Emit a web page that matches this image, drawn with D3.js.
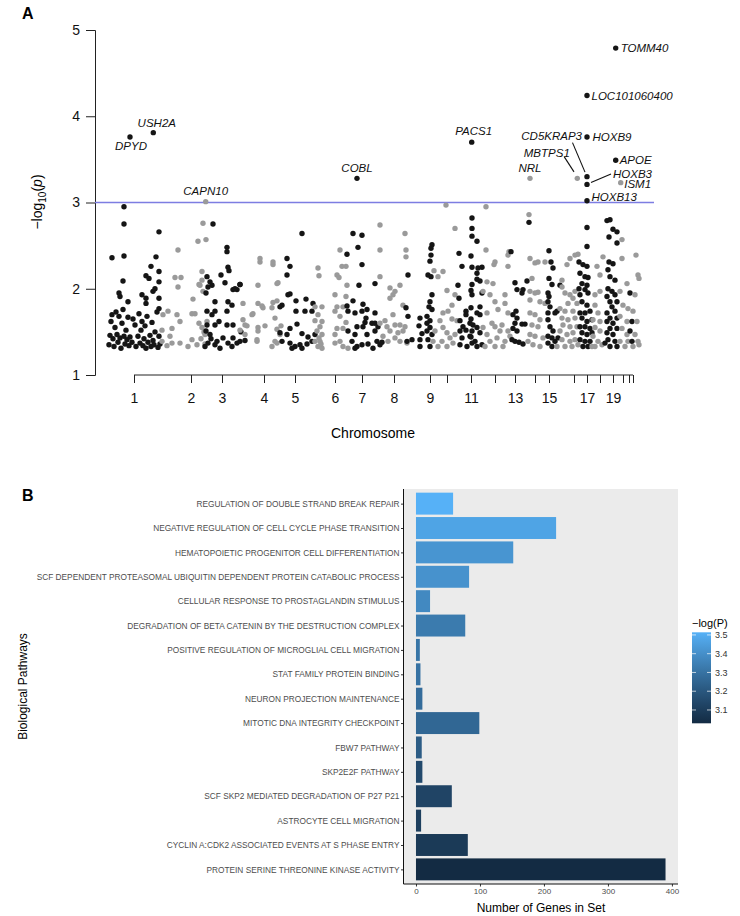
<!DOCTYPE html>
<html><head><meta charset="utf-8">
<script src="https://cdn.jsdelivr.net/npm/d3@7"></script>
<style>body{margin:0;background:#fff}svg{display:block}text{font-family:"Liberation Sans",Arial,Helvetica,sans-serif}</style>
</head><body><svg id="c" width="740" height="916"></svg>
<script>
// ---------- Panel A data: cumulative position (arbitrary genomic units), -log10(p) ----------
const chr1 = [[29,2.95],[29,2.75],[64,2.66],[17,2.36],[29,2.38],[61,2.37],[56,2.26],[64,2.20],[51,2.15],[54,2.12],[64,2.08],[28,2.09],[60,2.0],[58,1.97],[24,1.95],[25,1.91],[47,1.93],[51,1.89],[33,1.85],[64,1.89],[51,1.83],[64,1.77],
 [14,1.35],[15,1.46],[16,1.62],[17,1.70],[18,1.42],[19,1.33],[20,1.55],[21,1.73],[22,1.47],[23,1.38],[24,1.68],[25,1.43],[26,1.31],[27,1.60],[28,1.76],[29,1.45],[30,1.36],[31,1.52],[32,1.41],[33,1.67],[34,1.34],[35,1.44],[37,1.38],[38,1.65],[40,1.58],[41,1.33],[43,1.45],[44,1.71],[45,1.37],[46,1.52],[47,1.62],[48,1.34],[49,1.42],[50,1.57],[51,1.31],[52,1.68],[53,1.38],[55,1.46],[56,1.33],[57,1.61],[58,1.40],[59,1.35],[60,1.50],[62,1.73],[63,1.32],[64,1.45],[65,1.36]];
const chr2 = [[83,2.45],[80,2.13],[86,2.13],[83,2.02],[73,1.74],[68,1.70],[82,1.70],[67,1.52],[77,1.54],[85,1.62],[67,1.39],[72,1.34],[77,1.37],[85,1.37],[97,1.71],[100,1.71],[98,1.88],[103,2.55],[111,2.57],[108,2.76],[107,2.20],[105,2.04],[108,1.97],[97,1.41],[102,1.35],[93,1.33],[112,1.62],[110,1.47],[107,1.55],[104,2.05],[107,2.10],[109,1.50],[106,1.42],[110,1.36],[104,1.60],[75,1.45]];
const chr3 = [[118,2.75],[132,2.48],[132,2.43],[133,2.25],[134,2.21],[126,2.16],[130,2.07],[142,1.99],[138,1.99],[112,2.14],[115,2.08],[113,2.02],[117,2.04],[111,1.95],[120,1.85],[112,1.74],[120,1.74],[133,1.85],[132,1.74],[137,1.81],[117,1.70],[112,1.58],[120,1.58],[132,1.58],[138,1.58],[111,1.51],[115,1.47],[122,1.39],[113,1.37],[120,1.35],[128,1.43],[133,1.37],[138,1.43],[142,1.37],[137,1.33],[145,1.39],[140,2.0],[145,2.05],[146,1.50],[150,1.40],[110,1.33],[125,1.31],[116,1.42],[124,1.62],[145,2.05]];
const chr4 = [[148,1.83],[148,1.64],[152,1.57],[158,1.71],[162,1.41],[163,2.04],[165,2.31],[165,2.35],[163,1.83],[168,1.78],[163,1.55],[163,1.51],[170,1.57],[178,2.28],[182,2.06],[177,1.78],[178,1.84],[182,1.86],[180,1.66],[182,1.53],[177,1.33],[182,1.37],[185,1.47],[186,1.57],[178,2.31],[183,2.07],[157,1.70],[150,1.58],[145,1.52],[150,1.47],[162,1.39],[180,1.39],[167,1.80]];
const chr5 = [[207,2.64],[192,2.35],[195,2.26],[192,2.16],[193,1.93],[195,1.94],[187,1.81],[185,1.79],[201,1.86],[211,1.88],[218,1.83],[217,1.74],[210,1.74],[201,1.74],[202,1.59],[195,1.54],[185,1.49],[192,1.47],[207,1.48],[213,1.44],[195,1.37],[200,1.33],[205,1.35],[207,1.31],[212,1.36],[217,1.39],[220,1.47],[187,1.39],[197,1.31]];
const chr6 = [[223,2.24],[224,2.15],[220,1.79],[227,1.79],[223,1.70],[220,1.63],[227,1.62],[225,1.56],[222,1.51],[227,1.47],[225,1.39],[223,1.33],[227,1.31],[220,1.39],[245,2.45],[247,2.26],[251,2.26],[242,2.16],[244,2.13],[252,2.04],[240,1.93],[251,1.91],[248,1.79],[242,1.79],[240,1.74],[245,1.68],[251,1.61],[242,1.54],[248,1.54],[240,1.47],[245,1.39],[240,1.37],[248,1.33],[253,1.31],[224,1.43],[226,1.36]];
const chr7 = [[258,2.64],[267,2.62],[263,2.48],[252,2.40],[267,2.28],[264,2.04],[280,2.06],[252,1.80],[258,1.86],[253,1.74],[260,1.72],[267,1.74],[272,1.76],[268,1.82],[271,1.66],[280,1.72],[277,1.60],[270,1.61],[262,1.56],[268,1.56],[280,1.60],[283,1.56],[253,1.51],[260,1.47],[272,1.47],[280,1.51],[257,1.39],[262,1.33],[267,1.35],[273,1.36],[282,1.39],[260,1.31],[285,1.35],[278,1.31],[287,1.38]];
const chr8 = [[285,2.74],[285,2.45],[285,2.14],[310,2.64],[311,2.45],[311,2.37],[295,2.01],[300,1.97],[305,2.04],[298,1.93],[295,1.89],[308,1.81],[290,1.63],[298,1.70],[300,1.58],[292,1.56],[285,1.60],[305,1.58],[295,1.51],[303,1.49],[308,1.51],[288,1.45],[300,1.43],[305,1.39],[312,1.37],[293,1.39],[310,1.56]];
const chr9 = [[313,2.16],[337,2.51],[336,2.47],[336,2.39],[335,2.32],[333,2.16],[336,2.14],[311,1.78],[313,1.68],[337,1.93],[335,1.85],[334,1.79],[337,1.76],[332,1.68],[335,1.63],[325,1.66],[332,1.60],[324,1.57],[335,1.55],[332,1.51],[327,1.48],[337,1.47],[333,1.41],[325,1.41],[317,1.41],[335,1.33],[325,1.33],[312,1.39]];
const chr10 = [[351,2.97],[360,2.70],[339,2.21],[348,2.20],[343,2.14],[352,1.98],[360,1.93],[357,1.81],[348,1.72],[353,1.74],[345,1.63],[357,1.65],[362,1.63],[348,1.55],[352,1.49],[340,1.51],[355,1.43],[347,1.39],[360,1.47],[343,1.33],[352,1.33],[358,1.37],[338,1.39]];
const chr11 = [[377,2.82],[377,2.70],[377,2.61],[382,2.55],[364,2.41],[376,2.38],[367,2.26],[377,2.25],[383,2.24],[387,2.25],[382,2.18],[382,2.11],[385,2.09],[363,2.04],[377,2.05],[376,1.98],[377,1.93],[387,1.95],[364,1.89],[371,1.74],[376,1.78],[385,1.79],[382,1.72],[371,1.70],[365,1.63],[376,1.65],[385,1.70],[368,1.56],[375,1.60],[382,1.55],[365,1.51],[377,1.51],[385,1.49],[367,1.43],[375,1.45],[380,1.39],[365,1.35],[372,1.33],[377,1.37],[382,1.33],[387,1.35],[376,1.44],[371,1.52],[378,1.58]];
const chr12 = [[391,2.95],[391,2.45],[400,2.31],[399,2.28],[392,2.08],[398,2.06],[388,1.97],[395,1.93],[410,1.93],[400,1.85],[410,1.83],[392,1.72],[403,1.76],[397,1.60],[407,1.58],[413,1.72],[400,1.56],[388,1.55],[392,1.47],[405,1.51],[413,1.51],[395,1.39],[402,1.43],[410,1.39],[390,1.33],[400,1.33],[408,1.33],[415,1.45],[413,2.39],[414,2.43],[413,2.26]];
const chr13 = [[416,2.43],[420,2.07],[422,1.99],[421,1.74],[418,1.70],[422,1.66],[420,1.60],[418,1.54],[422,1.51],[417,1.41],[420,1.39],[428,1.99],[427,1.59],[434,2.77],[432,2.09],[427,1.95],[430,1.59],[428,1.36],[424,1.38]];
const chr14 = [[434,2.86],[435,2.35],[440,2.30],[443,2.31],[450,2.31],[437,2.12],[435,1.97],[440,1.95],[443,1.96],[435,1.87],[445,1.85],[450,1.83],[435,1.72],[440,1.70],[445,1.64],[437,1.58],[443,1.56],[435,1.47],[440,1.45],[448,1.43],[438,1.35],[445,1.33],[433,1.39]];
const chr15 = [[454,2.44],[456,2.31],[458,2.24],[454,2.12],[457,2.05],[453,1.95],[454,1.91],[453,1.85],[455,1.79],[453,1.72],[460,1.72],[453,1.64],[455,1.56],[458,1.51],[453,1.45],[457,1.43],[453,1.37],[460,1.39],[457,1.33],[463,1.43],[462,1.74],[465,2.04]];
const chr16 = [[475,2.35],[480,2.39],[483,2.40],[472,2.28],[467,2.10],[467,2.02],[470,1.95],[475,1.93],[480,1.97],[478,1.89],[473,1.83],[482,1.83],[465,1.77],[470,1.74],[478,1.74],[467,1.66],[473,1.64],[480,1.66],[468,1.58],[475,1.56],[482,1.56],[465,1.51],[472,1.47],[478,1.49],[467,1.41],[475,1.39],[480,1.41],[470,1.33],[477,1.33],[483,1.35],[462,1.33]];
const chr17 = [[492,2.71],[492,2.49],[484,2.31],[488,2.28],[492,2.26],[485,2.18],[490,2.14],[493,2.13],[487,2.06],[492,2.04],[484,2.00],[490,1.99],[493,1.95],[485,1.93],[487,1.85],[492,1.81],[485,1.72],[490,1.72],[495,1.74],[487,1.66],[492,1.62],[497,1.64],[485,1.56],[490,1.56],[495,1.54],[487,1.49],[492,1.47],[497,1.49],[485,1.41],[490,1.39],[495,1.39],[488,1.33],[493,1.33]];
const chr18 = [[508,2.37],[502,2.26],[505,2.16],[500,1.93],[505,1.97],[500,1.81],[503,1.72],[498,1.64],[505,1.62],[500,1.55],[505,1.51],[498,1.45],[503,1.39],[500,1.33],[507,1.35],[497,1.33]];
const chr19 = [[512,2.79],[515,2.80],[518,2.69],[522,2.66],[514,2.60],[522,2.53],[514,2.31],[518,2.29],[513,2.22],[515,2.14],[520,2.10],[513,2.00],[517,1.97],[520,1.93],[512,1.91],[515,1.85],[522,1.85],[517,1.79],[512,1.72],[520,1.74],[515,1.66],[522,1.66],[512,1.62],[518,1.60],[515,1.54],[522,1.54],[512,1.49],[518,1.47],[513,1.41],[520,1.39],[515,1.33],[522,1.33],[510,1.37]];
const chr20 = [[527,2.57],[527,2.35],[532,2.06],[525,1.97],[528,1.81],[533,1.77],[525,1.68],[532,1.62],[527,1.54],[532,1.47],[525,1.39],[530,1.33],[533,1.39]];
const chr21 = [[535,1.95],[537,1.62],[535,1.51],[537,1.39]];
const chr22 = [[541,2.39],[543,2.16],[544,2.12],[540,1.93],[538,1.74],[542,1.62],[540,1.47],[543,1.39],[538,1.33],[544,1.35]];
const chrPoints = [chr1,chr2,chr3,chr4,chr5,chr6,chr7,chr8,chr9,chr10,chr11,chr12,chr13,chr14,chr15,chr16,chr17,chr18,chr19,chr20,chr21,chr22];
const chrTickPos = [39,96,127,169,200,240,267,299,335,352,376,400,420,440,454,479,492,505,518,528,534,538];
const chrTickLabels = ["1","2","3","4","5","6","7","8","9","","11","","13","","15","","17","","19","","",""];
const yTicksA = [1,2,3,4,5];
const threshold = 3;

// top genes
const geneNames = ["TOMM40","LOC101060400","HOXB9","APOE","CD5KRAP3","MBTPS1","HOXB3","ISM1","HOXB13","NRL","PACS1","COBL","CAPN10","USH2A","DPYD"];
const geneChr   = [19,17,17,19,17,16,17,20,17,14,11,7,2,1,1];
const genePos   = [520.7,492,492,520.7,492,482.3,492,525.7,492,435,376.7,262,110.7,58.3,35];
const geneVal   = [4.79,4.24,3.76,3.49,3.30,3.28,3.21,3.23,3.02,3.28,3.70,3.28,3.01,3.81,3.76];

// ---------- Panel B data ----------
const pathways = ["REGULATION OF DOUBLE STRAND BREAK REPAIR","NEGATIVE REGULATION OF CELL CYCLE PHASE TRANSITION","HEMATOPOIETIC PROGENITOR CELL DIFFERENTIATION","SCF DEPENDENT PROTEASOMAL UBIQUITIN DEPENDENT PROTEIN CATABOLIC PROCESS","CELLULAR RESPONSE TO PROSTAGLANDIN STIMULUS","DEGRADATION OF BETA CATENIN BY THE DESTRUCTION COMPLEX","POSITIVE REGULATION OF MICROGLIAL CELL MIGRATION","STAT FAMILY PROTEIN BINDING","NEURON PROJECTION MAINTENANCE","MITOTIC DNA INTEGRITY CHECKPOINT","FBW7 PATHWAY","SKP2E2F PATHWAY","SCF SKP2 MEDIATED DEGRADATION OF P27 P21","ASTROCYTE CELL MIGRATION","CYCLIN A:CDK2 ASSOCIATED EVENTS AT S PHASE ENTRY","PROTEIN SERINE THREONINE KINASE ACTIVITY"];
const geneCounts = [58,219,152,83,22,77,6,7,10,99,9,10,56,8,81,390];
const negLogP = [3.514,3.47,3.42,3.41,3.38,3.33,3.31,3.30,3.28,3.26,3.22,3.15,3.13,3.11,3.09,3.029];
const countTicks = [0,100,200,300,400];
const legendTicks = [3.1,3.2,3.3,3.4,3.5];

// ================= Drawing =================
const svg = d3.select("#c");
const FONT = '"Liberation Sans",Arial,Helvetica,sans-serif';

// ----- Panel A -----
const xA = d3.scaleLinear().domain([0,560]).range([95,655]);
const yA = d3.scaleLinear().domain([1,5]).range([375,30]);
const gA = svg.append("g");

gA.append("text").attr("x",22).attr("y",19).attr("font-size",16).attr("font-weight","bold").text("A");

// y axis
const yAxisA = d3.axisLeft(yA).tickValues(yTicksA).tickFormat(d3.format("d")).tickSize(9).tickPadding(6);
const gy = gA.append("g").attr("transform","translate(95,0)").call(yAxisA);
gy.select(".domain").attr("stroke","#222");
gy.selectAll(".tick line").attr("stroke","#222");
gy.selectAll(".tick text").attr("font-size",14).attr("fill","#111").attr("font-family",FONT);

// x axis
const xAxisA = d3.axisBottom(xA).tickValues(chrTickPos).tickFormat((d,i)=>chrTickLabels[i]).tickSize(8).tickPadding(10);
const gx = gA.append("g").attr("transform","translate(0,375)").call(xAxisA);
gx.select(".domain").remove();
gx.append("line").attr("x1",xA(chrTickPos[0])).attr("x2",xA(chrTickPos[chrTickPos.length-1])).attr("stroke","#222");
gx.selectAll(".tick line").attr("stroke","#222");
gx.selectAll(".tick text").attr("font-size",14).attr("fill","#111").attr("font-family",FONT);

gA.append("text").attr("x",373).attr("y",438).attr("text-anchor","middle").attr("font-size",14).text("Chromosome");

// y label
const yl = gA.append("text").attr("transform","translate(42,202) rotate(-90)").attr("text-anchor","middle").attr("font-size",14);
yl.append("tspan").text("\u2212log");
yl.append("tspan").attr("font-size",10).attr("dy",4).text("10");
yl.append("tspan").attr("dy",-4).text("(");
yl.append("tspan").attr("font-style","italic").text("p");
yl.append("tspan").text(")");

// threshold line
gA.append("line").attr("x1",95).attr("x2",654).attr("y1",yA(threshold)).attr("y2",yA(threshold)).attr("stroke","#7d7de2").attr("stroke-width",1.4);

// points
const colA = c => (c % 2 === 1) ? "#151515" : "#9a9a9a";
chrPoints.forEach((arr,i)=>{
  gA.append("g").selectAll("circle").data(arr).join("circle")
    .attr("cx",d=>xA(d[0])).attr("cy",d=>yA(d[1])).attr("r",2.7).attr("fill",colA(i+1));
});
gA.append("g").selectAll("circle").data(geneNames.map((n,i)=>i)).join("circle")
  .attr("cx",i=>xA(genePos[i])).attr("cy",i=>yA(geneVal[i])).attr("r",2.7).attr("fill",i=>colA(geneChr[i]));

// gene labels: placement [dx, dy, anchor, leader line]
const place = {
  "TOMM40":[5,0,"start"],"LOC101060400":[4.5,0,"start"],"HOXB9":[5.5,0,"start"],"APOE":[4,0,"start"],
  "CD5KRAP3":[-5,-40.5,"end",[-14.5,-34,-2,-4.5]],"MBTPS1":[-7.5,-25,"end",[-13,-21.5,-3.3,-6.5]],
  "HOXB3":[26,-10.5,"start",[4,-2,24,-10.5]],"ISM1":[3.5,1.5,"start"],"HOXB13":[4.5,-3.5,"start"],
  "NRL":[0,-10.5,"middle"],"PACS1":[2,-11,"middle"],"COBL":[0,-10,"middle"],"CAPN10":[0,-11,"middle"],
  "USH2A":[3.5,-10,"middle"],"DPYD":[1,9,"middle"]
};
geneNames.forEach((n,i)=>{
  const px = xA(genePos[i]), py = yA(geneVal[i]), p = place[n];
  gA.append("text").attr("x",px+p[0]).attr("y",py+p[1]).attr("dy","0.35em").attr("text-anchor",p[2])
    .attr("font-size",11.5).attr("font-style","italic").attr("fill","#111").text(n);
  if (p[3]) gA.append("line").attr("x1",px+p[3][0]).attr("y1",py+p[3][1]).attr("x2",px+p[3][2]).attr("y2",py+p[3][3])
    .attr("stroke","#111").attr("stroke-width",1.1);
});

// ----- Panel B -----
const gB = svg.append("g");
gB.append("text").attr("x",22).attr("y",501).attr("font-size",16).attr("font-weight","bold").text("B");

const xB = d3.scaleLinear().domain([-19.5,409.5]).range([403.5,678]);
const yB = d3.scalePoint().domain(pathways).range([489,884]).padding(0.6);
const step = yB.step();
const color = d3.scaleLinear().domain(d3.extent(negLogP)).range(["#132B43","#56B1F7"]).interpolate(d3.interpolateLab);

gB.append("rect").attr("x",403.5).attr("y",489).attr("width",678-403.5).attr("height",884-489).attr("fill","#ebebeb");

gB.append("g").selectAll("rect").data(pathways).join("rect")
  .attr("x",xB(0)).attr("y",(d)=>yB(d)-0.45*step).attr("height",0.9*step)
  .attr("width",(d,i)=>xB(geneCounts[i])-xB(0)).attr("fill",(d,i)=>color(negLogP[i]));

const gyB = gB.append("g").attr("transform","translate(403.5,0)").call(d3.axisLeft(yB).tickSize(2.5).tickPadding(1.5));
gyB.select(".domain").remove();
gyB.selectAll(".tick line").attr("stroke","#333");
gyB.selectAll(".tick text").attr("font-size",8.3).attr("fill","#4d4d4d").attr("font-family",FONT);
gB.append("line").attr("x1",403.5).attr("x2",403.5).attr("y1",489).attr("y2",884).attr("stroke","#111").attr("stroke-width",1);

const gxB = gB.append("g").attr("transform","translate(0,884)").call(d3.axisBottom(xB).tickValues(countTicks).tickSize(2.5).tickPadding(2));
gxB.select(".domain").remove();
gxB.selectAll(".tick line").attr("stroke","#333");
gxB.selectAll(".tick text").attr("font-size",8).attr("fill","#4d4d4d").attr("font-family",FONT);
gB.append("line").attr("x1",403.5).attr("x2",678).attr("y1",884).attr("y2",884).attr("stroke","#111").attr("stroke-width",1);

gB.append("text").attr("x",541).attr("y",912).attr("text-anchor","middle").attr("font-size",12).text("Number of Genes in Set");
gB.append("text").attr("transform","translate(27,686.5) rotate(-90)").attr("text-anchor","middle").attr("font-size",12).text("Biological Pathways");

// legend
const ext = d3.extent(negLogP);
const yL = d3.scaleLinear().domain(ext).range([723.3,632.3]);
const defs = svg.append("defs");
const grad = defs.append("linearGradient").attr("id","lg").attr("x1",0).attr("x2",0).attr("y1",1).attr("y2",0);
d3.range(0,1.0001,0.1).forEach(t=>grad.append("stop").attr("offset",t).attr("stop-color",color(ext[0]+t*(ext[1]-ext[0]))));
gB.append("text").attr("x",692).attr("y",627).attr("font-size",11).text("\u2212log(P)");
gB.append("rect").attr("x",692).attr("y",yL(ext[1])).attr("width",19).attr("height",yL(ext[0])-yL(ext[1])).attr("fill","url(#lg)");
legendTicks.forEach(v=>{
  gB.append("line").attr("x1",692).attr("x2",696).attr("y1",yL(v)).attr("y2",yL(v)).attr("stroke","#fff").attr("stroke-opacity",0.7);
  gB.append("line").attr("x1",707).attr("x2",711).attr("y1",yL(v)).attr("y2",yL(v)).attr("stroke","#fff").attr("stroke-opacity",0.7);
  gB.append("text").attr("x",715).attr("y",yL(v)).attr("dy","0.35em").attr("font-size",9).attr("fill","#333").text(v.toFixed(1));
});
</script></body></html>
